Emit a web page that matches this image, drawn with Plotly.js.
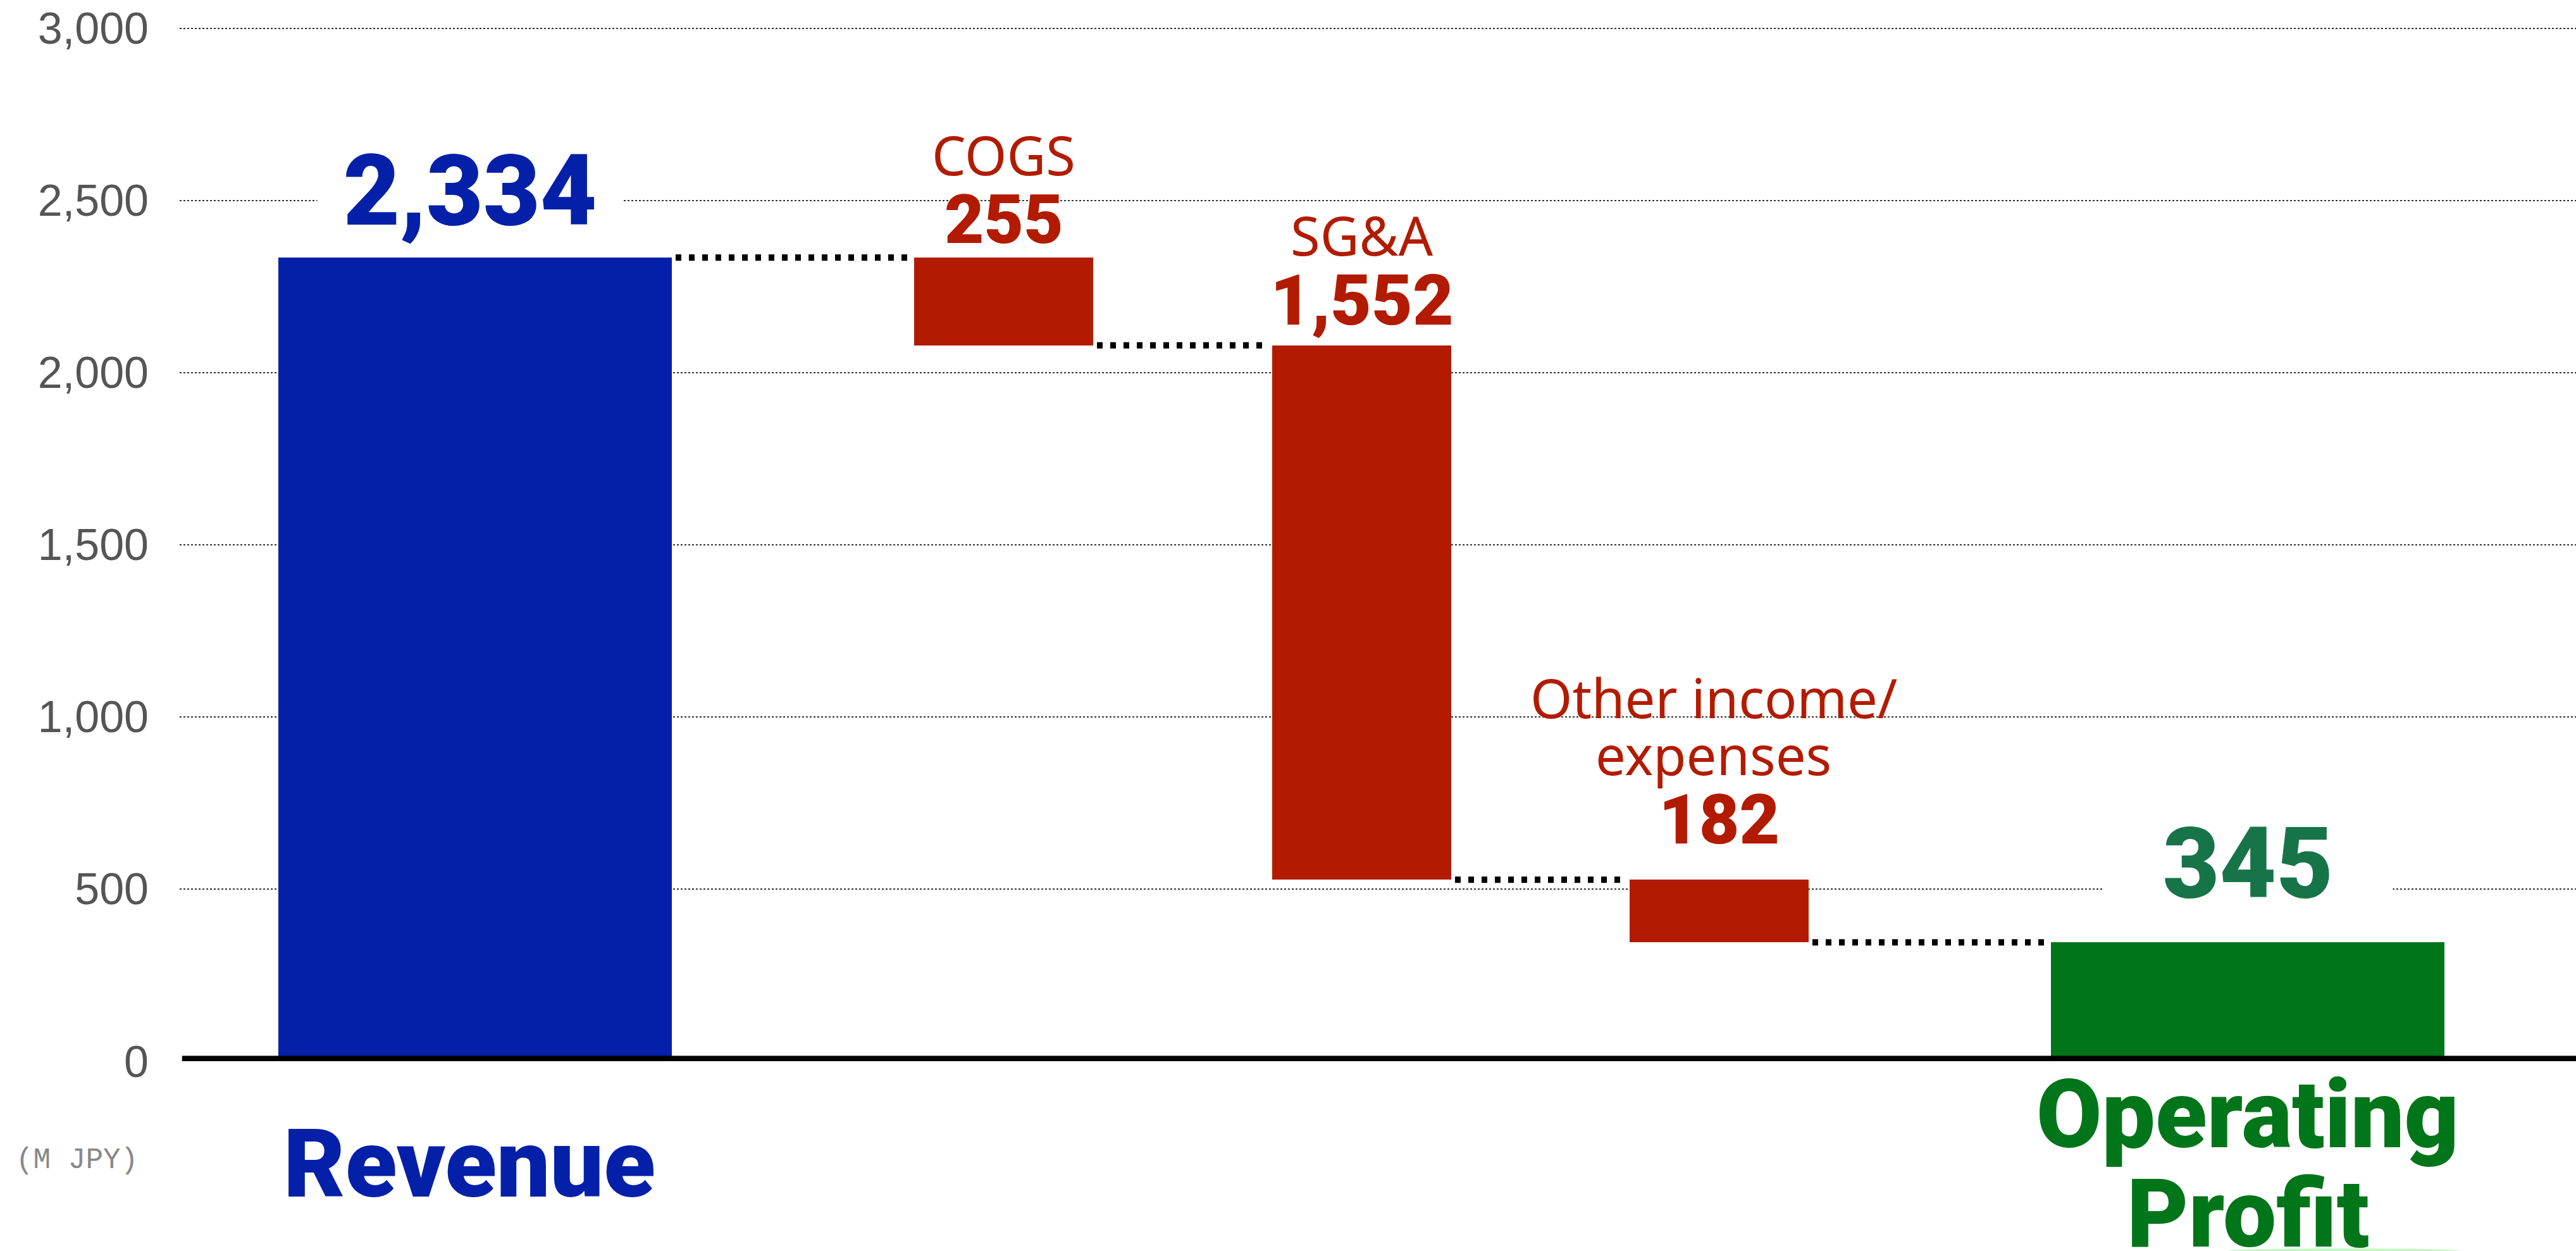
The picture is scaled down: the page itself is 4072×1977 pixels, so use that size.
<!DOCTYPE html>
<html><head><meta charset="utf-8">
<script src="https://cdn.plot.ly/plotly-3.0.1.min.js"></script>
<style>html,body{margin:0;padding:0;background:#fff;overflow:hidden}#chart{width:4072px;height:1977px}</style>
</head><body><div id="chart"></div>
<script>
// ---- data ----
const categories = ['Revenue', 'COGS', 'SG&A', 'Other income/expenses', 'Operating Profit'];
const measures = ['absolute', 'relative', 'relative', 'relative', 'total'];
const values = [2334, -255, -1552, -182, 345];
const valueLabels = ['2,334', '255', '1,552', '182', '345'];
const costNames = ['', 'COGS', 'SG&A', 'Other income/|expenses', ''];
const yTickVals = [0, 500, 1000, 1500, 2000, 2500, 3000];
const yTickText = ['0', '500', '1,000', '1,500', '2,000', '2,500', '3,000'];
const unitLabel = '(M JPY)';

// ---- layout (positions in x-axis units = px across plot) ----
const slotCenters = [751, 1586.5, 2152.5, 2717.5, 3553];
const slotWidths = [622, 283, 283, 283, 622];
const BLUE = '#0520A8', RED = '#B21B00', GREEN = '#007519', TEAL = '#177449';
const barColors = [BLUE, RED, RED, RED, GREEN];

// waterfall geometry through running level
const bases = [], heights = [], levels = [];
let level = 0;
values.forEach((v, i) => {
  if (measures[i] === 'absolute') { bases.push(0); heights.push(v); level = v; }
  else if (measures[i] === 'relative') { bases.push(level + Math.min(v, 0)); heights.push(Math.abs(v)); level += v; }
  else { bases.push(0); heights.push(level); }
  levels.push(level);
});
const tops = bases.map((b, i) => b + heights[i]);

const trace = {
  type: 'bar', x: slotCenters, y: heights, base: bases, width: slotWidths,
  marker: { color: barColors, line: { width: 0 } },
  hoverinfo: 'skip', text: categories, textposition: 'none', cliponaxis: false
};

const shapes = [];
// connectors
for (let i = 0; i < values.length - 1; i++) {
  const lv = levels[i];
  shapes.push({
    type: 'line', xref: 'x', yref: 'y',
    x0: slotCenters[i] + slotWidths[i] / 2 + 6, x1: slotCenters[i + 1] - slotWidths[i + 1] / 2 - 5,
    y0: lv, y1: lv, line: { color: '#000', width: 10, dash: '9px,12px' }
  });
}
// baseline
shapes.push({ type: 'rect', xref: 'paper', yref: 'y', x0: 0.001, x1: 1, ysizemode: 'pixel', yanchor: 0,
  y0: -1.5, y1: 8.5, fillcolor: '#000', line: { width: 0 } });
// faint glow under label
shapes.push({ type: 'circle', xref: 'x', yref: 'paper', x0: 3523, x1: 3888, y0: -0.1855, y1: -0.1810,
  fillcolor: '#b4f5b4', line: { width: 0 }, opacity: 0.8 });

const BOLD = 'Roboto, "Liberation Sans", sans-serif';
const REG = '"Noto Sans", "Open Sans", sans-serif';
const annotations = [];
const valueFont = [155, 108, 112, 110, 155];
const valueShift = [12, -5, 4, 28, 31];
const valueColor = [BLUE, RED, RED, RED, TEAL];
const valueBg = [480, 0, 0, 0, 455];
values.forEach((v, i) => {
  const a = {
    xref: 'x', yref: 'y', x: slotCenters[i], y: tops[i], xanchor: 'center', yanchor: 'bottom',
    yshift: valueShift[i], xshift: i === 0 ? -8 : 0, showarrow: false, text: valueLabels[i],
    font: { family: BOLD, size: valueFont[i], color: valueColor[i], weight: 900 }
  };
  if (valueBg[i]) { a.bgcolor = '#fff'; a.width = valueBg[i]; }
  annotations.push(a);
});
// cost names
const nameShift = [0, 103, 115, 228, 0];
costNames.forEach((n, i) => {
  if (!n) return;
  const parts = n.split('|');
  parts.forEach((p, j) => {
    annotations.push({
      xref: 'x', yref: 'y', x: slotCenters[i], y: tops[i], xanchor: 'center', yanchor: 'bottom',
      xshift: parts.length > 1 ? -9 : 0,
      yshift: nameShift[i] - j * 90, showarrow: false, text: p,
      font: { family: REG, size: 85, color: RED }
    });
  });
});
// category labels below axis
annotations.push({ xref: 'x', yref: 'paper', x: slotCenters[0], y: 0, xanchor: 'center', yanchor: 'bottom',
  xshift: -9, yshift: -253, showarrow: false, text: categories[0],
  font: { family: BOLD, size: 150, color: BLUE, weight: 900 } });
categories[4].split(' ').forEach((w, j) => {
  annotations.push({ xref: 'x', yref: 'paper', x: slotCenters[4], y: 0, xanchor: 'center', yanchor: 'bottom',
    yshift: -175 - j * 157, showarrow: false, text: w,
    font: { family: BOLD, size: 150, color: GREEN, weight: 900 } });
});
annotations.push({ xref: 'paper', yref: 'paper', x: -0.043, y: 0, xanchor: 'center', yanchor: 'middle',
  yshift: -157, showarrow: false, text: unitLabel,
  font: { family: '"Liberation Mono", "DejaVu Sans Mono", monospace', size: 46, color: '#888' } });

const layout = {
  width: 4072, height: 1977,
  margin: { l: 284, r: 0, t: 41.9, b: 299.5, pad: 0 },
  paper_bgcolor: '#fff', plot_bgcolor: '#fff',
  showlegend: false,
  xaxis: { range: [284, 4072], showgrid: false, zeroline: false, showline: false, showticklabels: false, ticks: '', fixedrange: true },
  yaxis: {
    range: [0, 3005], tickvals: yTickVals, ticktext: yTickText,
    tickfont: { family: '"Liberation Sans", Arial, sans-serif', size: 70, color: '#555' },
    ticks: '', ticklabelstandoff: 48,
    showgrid: true, gridcolor: '#333', gridwidth: 2, griddash: 'dot',
    zeroline: false, showline: false, fixedrange: true
  },
  shapes: shapes, annotations: annotations, bargap: 0
};
Plotly.newPlot('chart', [trace], layout, { staticPlot: true, displayModeBar: false });
</script></body></html>
